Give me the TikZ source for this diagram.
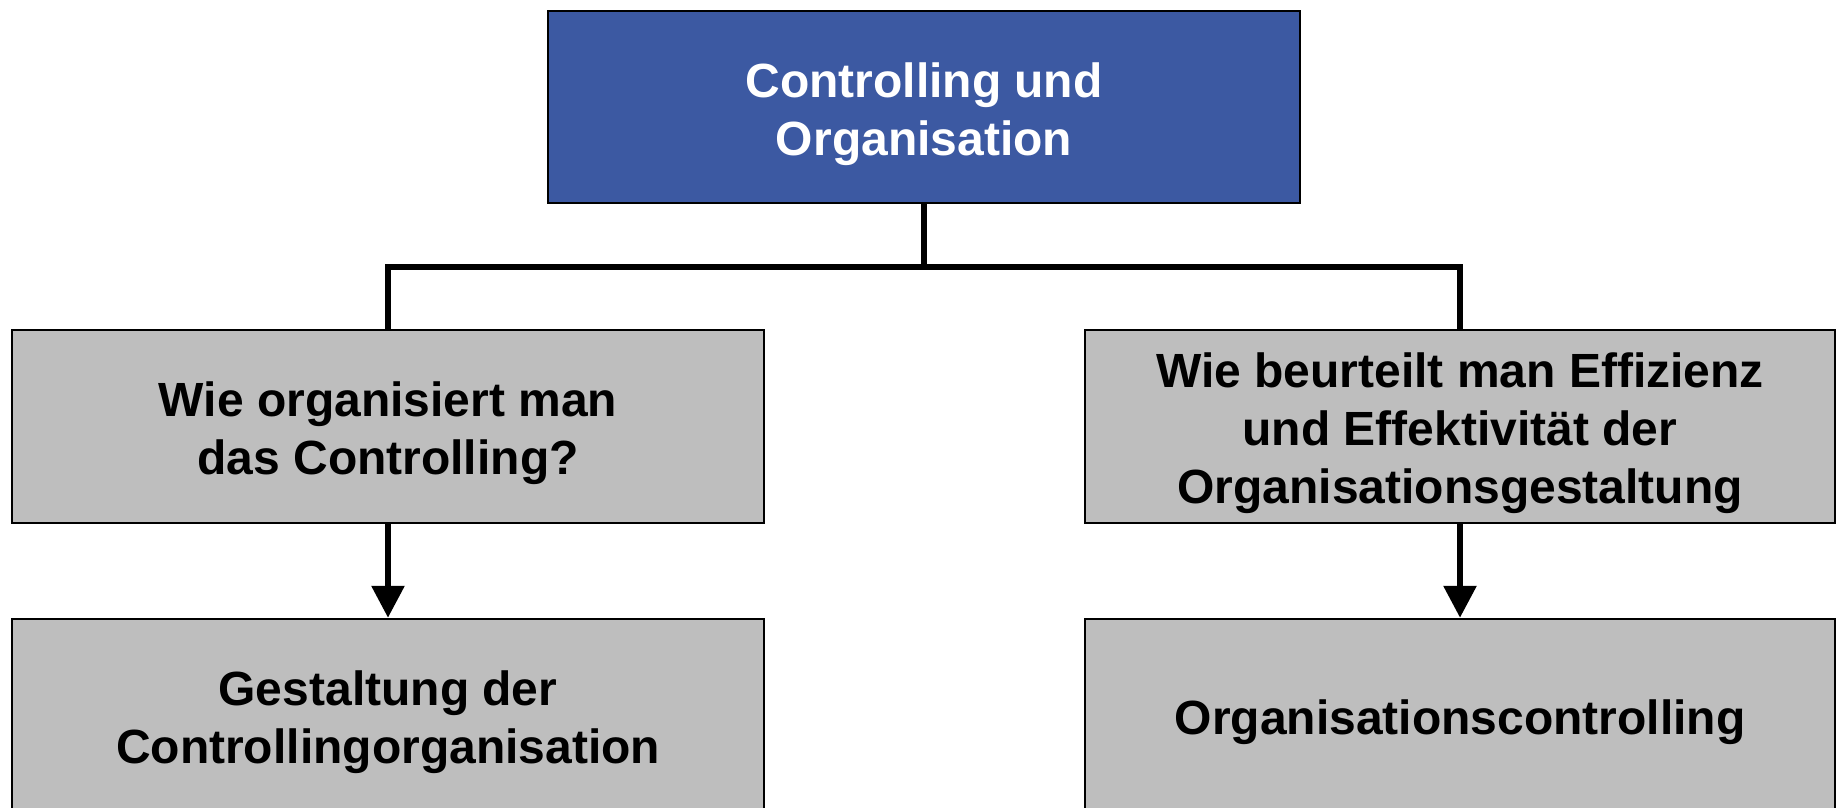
\documentclass[tikz,border=0pt]{standalone}
\usepackage{fontspec}
\setmainfont{Liberation Sans}
\usetikzlibrary{arrows.meta}
\definecolor{headblue}{RGB}{60,89,162}
\definecolor{boxgray}{RGB}{190,190,190}
\tikzset{
  box/.style={draw=black, line width=2pt, fill=boxgray, minimum width=752pt,
    minimum height=192.5pt, inner sep=0pt},
  headbox/.style={box, fill=headblue},
  txt/.style={inner sep=0pt, align=center,
    font=\fontsize{48}{58}\selectfont\bfseries},
  headtxt/.style={txt, text=white},
  conn/.style={line width=6pt, draw=black},
  arrowconn/.style={conn, -{Triangle[width=32pt,length=32pt]}}
}
\begin{document}
\begin{tikzpicture}[x=1pt,y=-1pt]
  \useasboundingbox (0,0) rectangle (1837,807);
  \clip (0,0) rectangle (1837,807);
  \fill[white] (0,0) rectangle (1837,807);

  % boxes
  \node[headbox] (top) at (924,106.75) {};
  \node[box] (qleft) at (388,426.25) {};
  \node[box, minimum width=750pt] (qright) at (1460,426.25) {};
  \node[box] (aleft) at (388,715) {};
  \node[box, minimum width=750pt] (aright) at (1460,715) {};

  % box texts
  \node[headtxt] (topt) at ([yshift=-7pt]top.center) {Controlling und\\Organisation};
  \node[txt] (qleftt) at ([yshift=-7pt]qleft.center) {Wie organisiert man\\das Controlling?};
  \node[txt] (qrightt) at ([yshift=-7pt]qright.center)
    {Wie beurteilt man Effizienz\\und Effektivität der\\Organisationsgestaltung};
  \node[txt] (aleftt) at ([yshift=-7pt]aleft.center) {Gestaltung der\\Controllingorganisation};
  \node[txt] (arightt) at ([yshift=-7pt]aright.center) {Organisationscontrolling};

  % connectors
  \coordinate (bus) at (924,267);
  \draw[conn] (top.south) -- (bus);
  \draw[conn] (qleft.north) |- (bus) -| (qright.north);

  \draw[arrowconn] (qleft.south) -- (aleft.north);
  \draw[arrowconn] (qright.south) -- (aright.north);
\end{tikzpicture}
\end{document}
